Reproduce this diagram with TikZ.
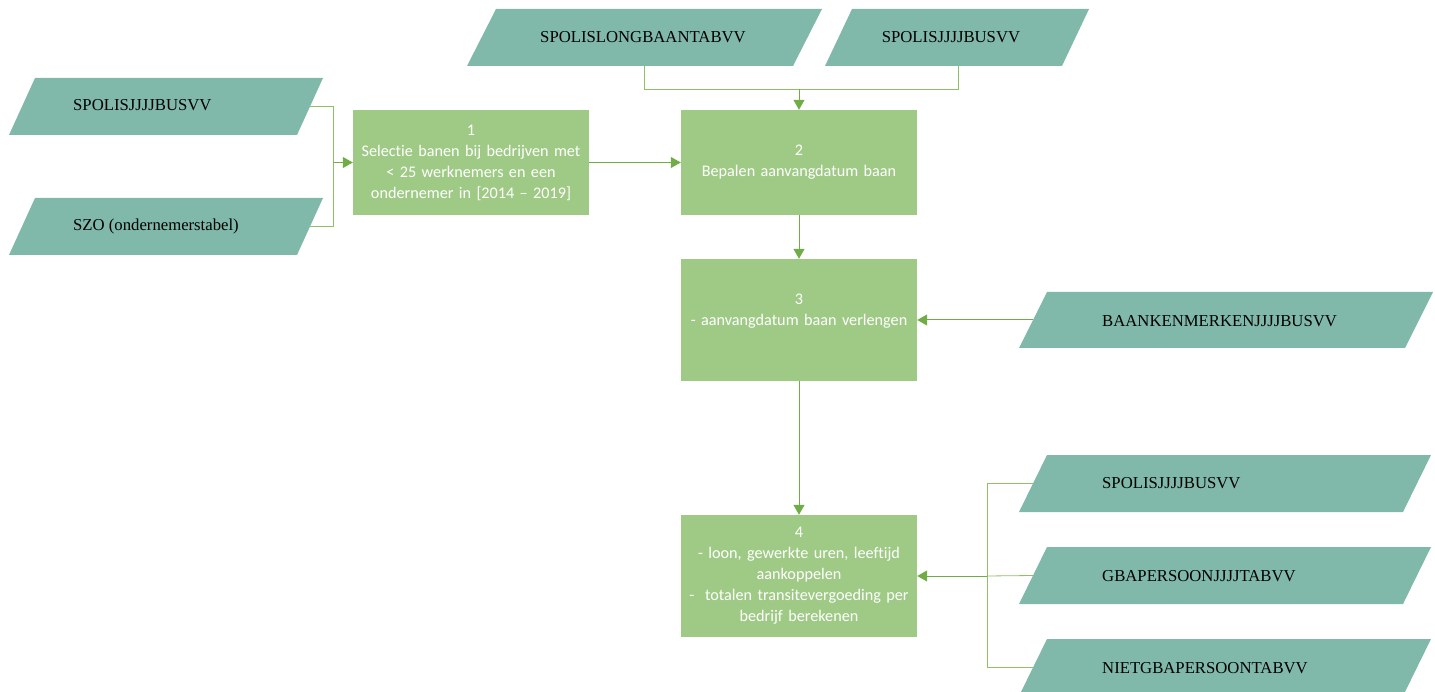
\documentclass[tikz,border=0pt]{standalone}
\usepackage{fontspec}
\setmainfont{Liberation Serif}
\newfontfamily\boxfont[Ligatures=NoCommon]{Carlito}
\usetikzlibrary{arrows.meta}
\definecolor{boxgreen}{HTML}{9FCA86}
\definecolor{datateal}{HTML}{80B8A9}
\definecolor{arrowgreen}{HTML}{70AD47}
\definecolor{linkgreen}{HTML}{8DC166}
\newcommand\DataShape[6]{% name, x bottom-left, y top, width, height, skew
  \fill[datateal] (#2+#6,#3) -- (#2+#6+#4,#3) -- (#2+#4,#3+#5) -- (#2,#3+#5) -- cycle;
  \coordinate (#1-l) at (#2+#6/2,#3+#5/2);
  \coordinate (#1-r) at (#2+#4+#6/2,#3+#5/2);
}
\begin{document}
\begin{tikzpicture}[x=1pt,y=-1pt,
  procbox/.style={fill=boxgreen,draw=none,minimum width=236pt,inner sep=0pt,
    text width=234pt,align=center,text=white,
    font=\boxfont\fontsize{16.2}{21}\selectfont},
  datatext/.style={inner sep=0pt,text=black,font=\fontsize{16.7}{18}\selectfont},
  link/.style={draw=linkgreen,line width=0.8pt},
  arrowline/.style={draw=arrowgreen,line width=1pt,-{Triangle[width=11pt,length=10pt]}}]
\useasboundingbox (0,0) rectangle (1435,692);

% data shapes
\DataShape{A}{9}{78}{288}{57}{26}
\DataShape{B}{9}{198}{288}{57}{26}
\DataShape{C}{467}{9}{326}{57}{29}
\DataShape{D}{825}{9}{237}{57}{27}
\DataShape{E}{1019}{292}{386}{56}{28}
\DataShape{F}{1019}{455}{384}{57}{28}
\DataShape{G}{1019}{547}{384}{57}{28}
\DataShape{H}{1019}{639}{384}{57}{28}

\node[datatext,anchor=west] (tA) at (73,105) {SPOLISJJJJBUSVV};
\node[datatext,anchor=west] (tB) at (73,226) {SZO (ondernemerstabel)};
\node[datatext] (tC) at (643,37) {SPOLISLONGBAANTABVV};
\node[datatext] (tD) at (951,37) {SPOLISJJJJBUSVV};
\node[datatext,anchor=west] (tE) at (1102,321) {BAANKENMERKENJJJJBUSVV};
\node[datatext,anchor=west] (tF) at (1102,483) {SPOLISJJJJBUSVV};
\node[datatext,anchor=west] (tG) at (1102,576) {GBAPERSOONJJJJTABVV};
\node[datatext,anchor=west] (tH) at (1102,668) {NIETGBAPERSOONTABVV};

% process boxes
\node[procbox,minimum height=105pt] (b1) at (471,162.5)
  {1\\Selectie banen bij bedrijven met\\< 25 werknemers en een\\ondernemer in [2014 – 2019]};
\node[procbox,minimum height=105pt] (b2) at (799,162.5)
  {2\\Bepalen aanvangdatum baan};
\node[procbox,minimum height=122pt] (b3) at (799,320)
  {3\\- aanvangdatum baan verlengen\\\mbox{}};
\node[procbox,minimum height=122pt] (b4) at (799,576)
  {4\\- loon, gewerkte uren, leeftijd\\aankoppelen\\-\ \ totalen transitevergoeding per\\bedrijf berekenen};

% junction coordinates
\coordinate (jl) at (333,162.5);
\coordinate (Cb) at (644,66);
\coordinate (Db) at (958,66);
\coordinate (jt) at (799,89);
\coordinate (jr) at (987,576);

% left bracket
\draw[link] (A-r) -- (A-r -| jl) -- (B-r -| jl) -- (B-r);
\draw[arrowline] (jl) -- (b1.west);
% top bracket
\draw[link] (Cb) -- (Cb |- jt) -- (Db |- jt) -- (Db);
\draw[arrowline] (jt) -- (b2.north);
% main flow
\draw[arrowline] (b1.east) -- (b2.west);
\draw[arrowline] (b2.south) -- (b3.north);
\draw[arrowline] (b3.south) -- (b4.north);
\draw[arrowline] (E-l) -- (b3.east);
% right bracket
\draw[link] (F-l) -- (F-l -| jr) -- (H-l -| jr) -- (H-l);
\draw[link] (G-l) -- (jr);
\draw[arrowline] (jr) -- (b4.east);
\end{tikzpicture}
\end{document}
